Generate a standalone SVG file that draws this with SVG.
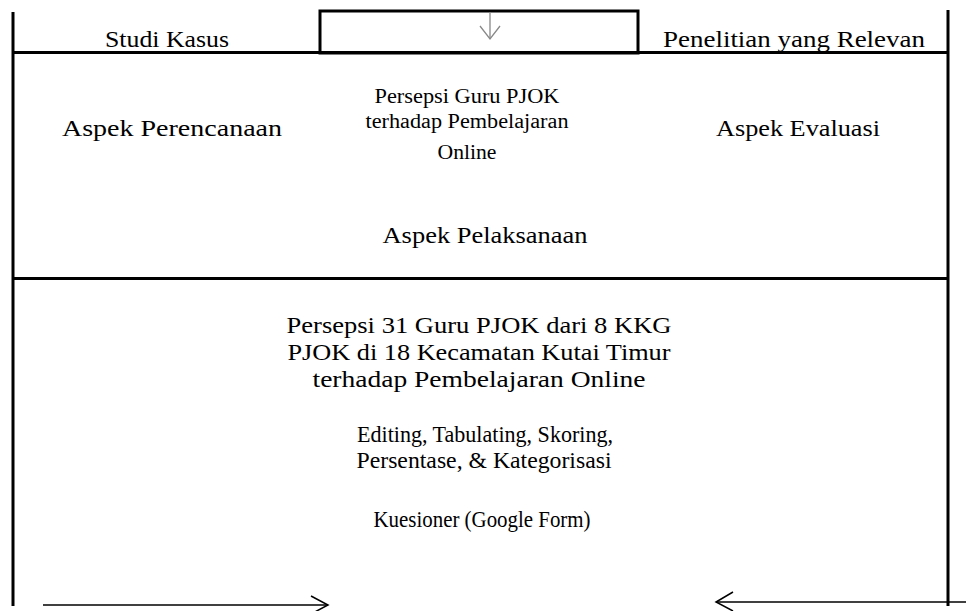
<svg xmlns="http://www.w3.org/2000/svg" width="966" height="611" viewBox="0 0 966 611">
<style>
  .t { font-family: "Liberation Serif", "Times New Roman", serif; font-size: 24px; fill: #000; text-anchor: middle; }
  .s { font-family: "Liberation Serif", "Times New Roman", serif; font-size: 20px; fill: #000; text-anchor: middle; }
  .frame { stroke: #000; stroke-width: 3; fill: none; }
  .thin { stroke: #000; stroke-width: 1.5; fill: none; }
  .gray { stroke: #888; stroke-width: 1.3; fill: none; }
</style>
<rect width="966" height="611" fill="#fff"/>
<g id="frame">
  <line class="frame" x1="13" y1="12" x2="13" y2="606"/>
  <line class="frame" x1="948" y1="10" x2="948" y2="606"/>
  <line class="frame" x1="13" y1="52.5" x2="948" y2="52.5"/>
  <line class="frame" x1="13" y1="278.5" x2="948" y2="278.5"/>
</g>
<g id="studi-kasus"><text class="t" x="167" y="47" textLength="124" lengthAdjust="spacingAndGlyphs">Studi Kasus</text></g>
<g id="top-box"><rect class="frame" x="320" y="11" width="318" height="42"/></g>
<g id="penelitian"><text class="t" x="794" y="47" textLength="262" lengthAdjust="spacingAndGlyphs">Penelitian yang Relevan</text></g>
<g id="aspek-perencanaan"><text class="t" x="172" y="136" textLength="220" lengthAdjust="spacingAndGlyphs">Aspek Perencanaan</text></g>
<g id="persepsi-guru">
  <text class="s" x="467" y="103" textLength="185" lengthAdjust="spacingAndGlyphs">Persepsi Guru PJOK</text>
  <text class="s" x="467" y="128" textLength="203" lengthAdjust="spacingAndGlyphs">terhadap Pembelajaran</text>
  <text class="s" x="467" y="159" textLength="59" lengthAdjust="spacingAndGlyphs">Online</text>
</g>
<g id="aspek-evaluasi"><text class="t" x="798" y="136" textLength="164" lengthAdjust="spacingAndGlyphs">Aspek Evaluasi</text></g>
<g id="aspek-pelaksanaan"><text class="t" x="485" y="243" textLength="205" lengthAdjust="spacingAndGlyphs">Aspek Pelaksanaan</text></g>
<g id="persepsi-31">
  <text class="t" x="479" y="333" textLength="385" lengthAdjust="spacingAndGlyphs">Persepsi 31 Guru PJOK dari 8 KKG</text>
  <text class="t" x="479" y="360" textLength="383" lengthAdjust="spacingAndGlyphs">PJOK di 18 Kecamatan Kutai Timur</text>
  <text class="t" x="479" y="387" textLength="333" lengthAdjust="spacingAndGlyphs">terhadap Pembelajaran Online</text>
</g>
<g id="analisis">
  <text class="t" x="485" y="442" style="font-size:23px" textLength="256" lengthAdjust="spacingAndGlyphs">Editing, Tabulating, Skoring,</text>
  <text class="t" x="484" y="468" textLength="255" lengthAdjust="spacingAndGlyphs">Persentase, &amp; Kategorisasi</text>
</g>
<g id="kuesioner"><text class="t" x="482" y="527" style="font-size:22.5px" textLength="217" lengthAdjust="spacingAndGlyphs">Kuesioner (Google Form)</text></g>
<g id="connectors">
  <line class="gray" x1="490" y1="12" x2="490" y2="39"/>
  <polyline class="gray" points="480,26 490,39 500,26"/>
  <line class="thin" x1="43" y1="605" x2="328" y2="605"/>
  <polyline class="thin" points="311,596 328,605 311,614"/>
  <line class="thin" x1="716" y1="602" x2="966" y2="602"/>
  <polyline class="thin" points="733,592 716,602 733,611"/>
</g>
</svg>
